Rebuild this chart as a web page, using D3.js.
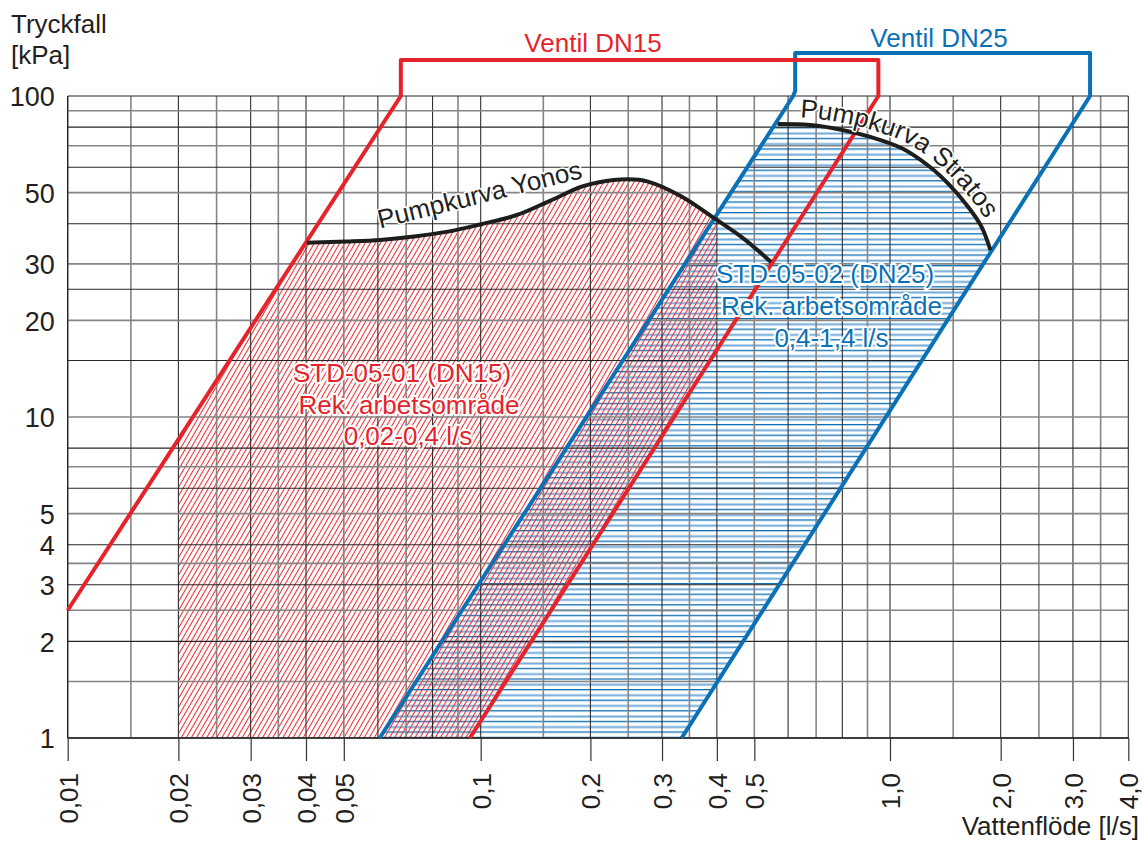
<!DOCTYPE html>
<html><head><meta charset="utf-8">
<script src="https://cdn.jsdelivr.net/npm/d3@7"></script>
<style>
html,body{margin:0;padding:0;background:#fff;}
svg{display:block;font-family:"Liberation Sans", Arial, Helvetica, sans-serif;}
</style></head><body>
<svg id="chart" width="1143" height="841"></svg>
<script>
// ---------- DATA ----------
const xGridValues = [0.01,0.015,0.02,0.025,0.03,0.035,0.04,0.05,0.06,0.07,0.08,0.09,0.1,0.15,0.2,0.25,0.3,0.35,0.4,0.5,0.6,0.7,0.8,0.9,1,1.5,2,2.5,3,3.5,4];
const xTickValues = [0.01,0.02,0.03,0.04,0.05,0.1,0.2,0.3,0.4,0.5,1,2,3,4];
const xTickLabels = ["0,01","0,02","0,03","0,04","0,05","0,1","0,2","0,3","0,4","0,5","1,0","2,0","3,0","4,0"];
const yGridValues = [1,1.5,2,2.5,3,3.5,4,5,6,7,8,10,15,20,25,30,40,50,60,70,80,90,100];
const yTickValues = [1,2,3,4,5,10,20,30,50,100];
const yTickLabels = ["1","2","3","4","5","10","20","30","50","100"];

const yonosFlow     = [0.0402,0.0508,0.0608,0.0729,0.0859,0.0997,0.1265,0.1546,0.1895,0.209,0.249,0.278,0.333,0.397,0.470,0.547];
const yonosPressure = [34.9,35.2,35.6,36.5,37.8,39.8,42.6,46.9,52.2,53.8,55.0,54.1,48.8,41.4,35.9,30.4];
const stratosFlow     = [0.567,0.677,0.8,0.908,1.079,1.29,1.448,1.641,1.78,1.88];
const stratosPressure = [81.8,81.2,78.4,74.7,68.7,60.2,53.5,45.2,39.2,33.1];

const dn15LowFlow = [0.01,0.068],   dn15LowPressure = [2.5,100];
const dn15HighFlow = [0.0951,0.947], dn15HighPressure = [1,100];
const dn25LowFlow = [0.0606,0.617], dn25LowPressure = [1,100];
const dn25HighFlow = [0.335,3.30],  dn25HighPressure = [1,100];
const dn15RangeFlow = [0.02,0.4];

const titleY = ["Tryckfall","[kPa]"];
const titleX = "Vattenflöde [l/s]";
const valve15Label = "Ventil DN15";
const valve25Label = "Ventil DN25";
const std01Lines = ["STD-05-01 (DN15)","Rek. arbetsområde","0,02-0,4 l/s"];
const std02Lines = ["STD-05-02 (DN25)","Rek. arbetsområde","0,4-1,4 l/s"];
const yonosLabel = "Pumpkurva Yonos";
const stratosLabel = "Pumpkurva Stratos";

// ---------- LAYOUT ----------
const RED = "#e5232b", BLUE = "#0a71b7", INK = "#231f20";
const plotTop = 96, plotBottom = 738;
const decadeStarts = [67.7,480.7,890], decadeWidths = [413,409.3,413];
const mantissas = [1,1.5,2,2.5,3,3.5,4,5,6,7,8,9];
const mantissaFrac = [0,.153,.268,.3605,.443,.51,.577,.6685,.751,.8195,.8835,.945];
const xDomain = [], xRange = [];
[0.01,0.1,1].forEach((base,i)=>mantissas.forEach((m,j)=>{
  xDomain.push(+(base*m).toPrecision(6));
  xRange.push(decadeStarts[i] + mantissaFrac[j]*decadeWidths[i]);
}));
xDomain.push(10); xRange.push(decadeStarts[2]+decadeWidths[2]);

const x = d3.scaleLog().domain(xDomain).range(xRange);
const y = d3.scaleLog().domain([1,100]).range([plotBottom, plotTop]);
const xMin = x(0.01), xMax = x(4);

const svg = d3.select("#chart");
const defs = svg.append("defs");

// patterns
const rp = defs.append("pattern").attr("id","redHatch").attr("patternUnits","userSpaceOnUse")
  .attr("width",4.4).attr("height",10).attr("patternTransform","rotate(30)");
rp.append("line").attr("x1",2.2).attr("x2",2.2).attr("y1",-1).attr("y2",11)
  .attr("stroke","#ec2a31").attr("stroke-width",1.05);
const bp = defs.append("pattern").attr("id","blueHatch").attr("patternUnits","userSpaceOnUse")
  .attr("width",20).attr("height",10.6);
bp.append("rect").attr("x",0).attr("y",0).attr("width",20).attr("height",1.3).attr("fill","#0a6db5");
bp.append("rect").attr("x",0).attr("y",5.3).attr("width",20).attr("height",2).attr("fill","#72aada");

const pts = (qs,ps)=>qs.map((q,i)=>[x(q), y(ps[i])]);
const yAt = (a,b,px)=>a[1] + (px-a[0])/(b[0]-a[0])*(b[1]-a[1]);

const yonosPts = pts(yonosFlow, yonosPressure);
const stratosPts = pts(stratosFlow, stratosPressure);
const d15L = pts(dn15LowFlow, dn15LowPressure);
const d15H = pts(dn15HighFlow, dn15HighPressure);
const d25L = pts(dn25LowFlow, dn25LowPressure);
const d25H = pts(dn25HighFlow, dn25HighPressure);

const curveLine = d3.line().curve(d3.curveCatmullRom.alpha(0.5));
const polyLine = d3.line();

// ----- blue hatched region -----
defs.append("clipPath").attr("id","blueClip").append("path")
  .attr("d", polyLine([d25L[0], d25L[1], d25H[1], d25H[0]]) + "Z");
const sPath = curveLine(stratosPts);
const sFirst = stratosPts[0], sLast = stratosPts[stratosPts.length-1];
svg.append("path")
  .attr("d", `M${xMin},${sFirst[1]}L${sPath.slice(1)}L${xMax},${sLast[1]}L${xMax},${plotBottom}L${xMin},${plotBottom}Z`)
  .attr("fill","url(#blueHatch)").attr("clip-path","url(#blueClip)");

// ----- red hatched region -----
const xa = x(dn15RangeFlow[0]), xb = x(dn15RangeFlow[1]);
defs.append("clipPath").attr("id","redClip").append("path")
  .attr("d", polyLine([[xa,plotBottom],[xa,yAt(d15L[0],d15L[1],xa)],d15L[1],[xb,plotTop],[xb,yAt(d15H[0],d15H[1],xb)],d15H[0]]) + "Z");
const yPath = curveLine(yonosPts);
const yFirst = yonosPts[0], yLast = yonosPts[yonosPts.length-1];
svg.append("path")
  .attr("d", `M${xMin},${yFirst[1]}L${yPath.slice(1)}L${xMax},${yLast[1]}L${xMax},${plotBottom}L${xMin},${plotBottom}Z`)
  .attr("fill","url(#redHatch)").attr("clip-path","url(#redClip)");

// ----- grid -----
const grid = svg.append("g");
grid.selectAll("line.v").data(xGridValues).join("line")
  .attr("x1",d=>x(d)).attr("x2",d=>x(d)).attr("y1",plotTop).attr("y2",plotBottom)
  .attr("stroke",(d,i)=>i%2?"#858585":"#262626").attr("stroke-width",(d,i)=>i%2?1.6:1.05);
grid.selectAll("line.h").data(yGridValues).join("line")
  .attr("y1",d=>y(d)).attr("y2",d=>y(d)).attr("x1",xMin).attr("x2",xMax)
  .attr("stroke",(d,i)=>i%2?"#858585":"#262626").attr("stroke-width",(d,i)=>i%2?1.6:1.05);
// frame
svg.append("line").attr("x1",xMin).attr("x2",xMin).attr("y1",plotTop).attr("y2",plotBottom).attr("stroke","#222").attr("stroke-width",1.2);
svg.append("line").attr("x1",xMin).attr("x2",xMax).attr("y1",plotBottom).attr("y2",plotBottom).attr("stroke","#222").attr("stroke-width",1.4);

// ----- axes -----
const xAxis = svg.append("g").attr("transform",`translate(0,${plotBottom})`)
  .call(d3.axisBottom(x).tickValues(xTickValues).tickFormat((d,i)=>xTickLabels[i]).tickSize(23));
xAxis.select(".domain").remove();
xAxis.selectAll(".tick line").attr("stroke","#333").attr("stroke-width",1.2);
xAxis.selectAll(".tick text")
  .attr("transform","rotate(-90)").attr("x",-35).attr("y",0).attr("dy","0.36em")
  .attr("text-anchor","end").attr("font-size",26).attr("fill",INK)
  .attr("font-family","'Liberation Sans', Arial, sans-serif");

const yAxis = svg.append("g").attr("transform",`translate(${xMin},0)`)
  .call(d3.axisLeft(y).tickValues(yTickValues).tickFormat((d,i)=>yTickLabels[i]).tickSize(0).tickPadding(13));
yAxis.select(".domain").remove();
yAxis.selectAll(".tick text").attr("font-size",27).attr("fill",INK).attr("dy","0.36em")
  .attr("font-family","'Liberation Sans', Arial, sans-serif");

// ----- valve lines + brackets -----
const red15 = [d15L[0], d15L[1], [d15L[1][0],60], [d15H[1][0],60], d15H[1], d15H[0]];
const blue25 = [d25L[0], d25L[1], [d25L[1][0]+2,91], [d25L[1][0]+2,53], [d25H[1][0],53], d25H[1], d25H[0]];
svg.append("path").attr("d",polyLine(blue25)).attr("fill","none").attr("stroke",BLUE)
  .attr("stroke-width",4).attr("stroke-linejoin","round");
svg.append("path").attr("d",polyLine(red15)).attr("fill","none").attr("stroke",RED)
  .attr("stroke-width",4).attr("stroke-linejoin","round");

// ----- pump curves -----
svg.append("path").attr("d",yPath).attr("fill","none").attr("stroke","#1d1d1b").attr("stroke-width",4);
svg.append("path").attr("d",sPath).attr("fill","none").attr("stroke","#1d1d1b").attr("stroke-width",4);

// ----- texts -----
const txt = (s,xp,yp,opt={})=>svg.append("text").attr("x",xp).attr("y",yp).text(s)
  .attr("font-size",opt.size||26).attr("fill",opt.fill||INK).attr("text-anchor",opt.anchor||"start");
txt(titleY[0],11,32.5);
txt(titleY[1],11,63.5);
txt(titleX,1139,835,{anchor:"end"});
txt(valve15Label,593,52,{anchor:"middle",fill:RED});
txt(valve25Label,939,46.5,{anchor:"middle",fill:BLUE});

const halo = sel=>sel.attr("stroke","#fff").attr("stroke-width",4).attr("stroke-linejoin","round").attr("paint-order","stroke");
const redX = [402,409,408], redY = [381.5,413.5,445];
std01Lines.forEach((s,i)=>halo(txt(s,redX[i],redY[i],{anchor:"middle",fill:RED})));
const blueX = [825,831.5,831.5], blueY = [283,315,346.5];
std02Lines.forEach((s,i)=>halo(txt(s,blueX[i],blueY[i],{anchor:"middle",fill:BLUE})));

// Yonos label (straight, rotated)
halo(svg.append("text").attr("transform","translate(380,228.5) rotate(-14)").text(yonosLabel)
  .attr("font-size",26).attr("fill",INK)).attr("stroke-width",3);

// Stratos label along an offset of the curve
const off = 7;
const offPts = stratosPts.map((p,i)=>{
  const a = stratosPts[Math.max(0,i-1)], b = stratosPts[Math.min(stratosPts.length-1,i+1)];
  const tx = b[0]-a[0], ty = b[1]-a[1], L = Math.hypot(tx,ty);
  return [p[0] + off*ty/L, p[1] - off*tx/L];
});
const e0 = offPts[offPts.length-2], e1 = offPts[offPts.length-1];
const el = Math.hypot(e1[0]-e0[0], e1[1]-e0[1]);
offPts.push([e1[0]+(e1[0]-e0[0])/el*40, e1[1]+(e1[1]-e0[1])/el*40]);
defs.append("path").attr("id","stratosTextPath").attr("d",curveLine(offPts));
halo(svg.append("text").attr("font-size",26).attr("fill",INK))
  .attr("stroke-width",3)
  .append("textPath").attr("href","#stratosTextPath").attr("startOffset",22).text(stratosLabel);
</script>
</body></html>
